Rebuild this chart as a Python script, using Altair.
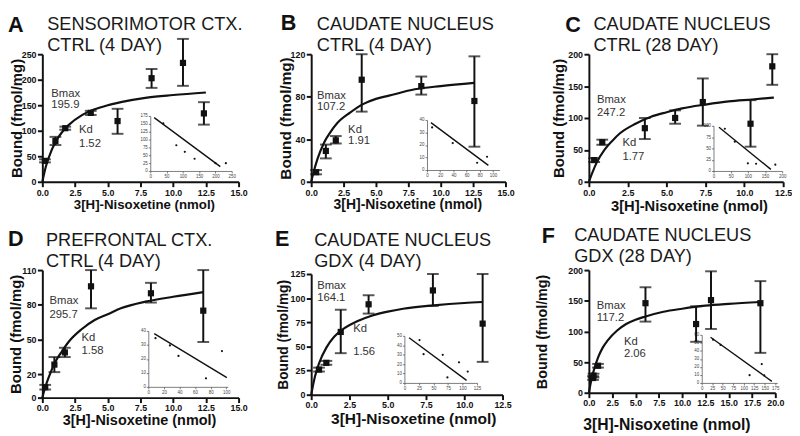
import altair as alt
import pandas as pd

FONT = "Liberation Sans"

# ---------------- data ----------------
# Panel A
A_x  = [0.2, 1.0, 1.75, 3.7, 5.75, 8.35, 10.75, 12.35]
A_y  = [41, 80, 105, 135, 119, 203, 233, 134]
A_lo = [38, 72, 102, 131, 94, 184, 188, 112]
A_hi = [44, 88, 108, 139, 143, 221, 280, 156]
A_cx = [0, 0.25, 0.5, 1, 1.5, 2, 3, 4, 5, 6, 8, 10, 12.5]
A_cy = [0, 28, 48, 78, 97, 111, 130, 142, 150, 156, 165, 170, 175]
A_ix = [40, 80, 106, 136, 200, 232]
A_iy = [152, 82, 61, 39, 25, 25]
A_lx = [12, 215]
A_ly = [170, 14]
A_txt = ["Bmax", "195.9", "Kd", "1.52"]

# Panel B
B_x  = [0.38, 1.13, 1.9, 3.9, 8.5, 12.6]
B_y  = [9, 29, 39, 96, 90, 76]
B_lo = [7, 22, 36, 66, 82, 33]
B_hi = [11, 35, 43, 120, 99, 118]
B_cx = [0, 0.25, 0.5, 1, 1.5, 2, 3, 4, 5, 6, 8, 10, 12.6]
B_cy = [0, 12, 22, 37, 47, 55, 65, 73, 78, 81, 87, 90, 93]
B_ix = [7.8, 39, 76, 91]
B_iy = [34, 21.5, 5.8, 10.6]
B_lx = [6, 93]
B_ly = [37.9, 3.7]
B_txt = ["Bmax", "107.2", "Kd", "1.91"]

# Panel C
C_x  = [0.34, 0.86, 3.6, 5.55, 7.33, 10.4, 11.8]
C_y  = [34, 62, 84, 100, 125, 91, 181]
C_lo = [31, 58, 67, 91, 88, 55, 152]
C_hi = [37, 66, 100, 112, 162, 128, 200]
C_cx = [0, 0.25, 0.5, 1, 1.5, 2, 3, 4, 5, 6, 7.5, 9, 10.5, 11.9]
C_cy = [0, 16, 30, 50, 64, 76, 91, 102, 109, 115, 121, 126, 129, 132]
C_ix = [33, 62, 100, 124, 180]
C_iy = [93.5, 65, 17, 16, 14]
C_lx = [16, 167]
C_ly = [97, 3.6]
C_txt = ["Bmax", "247.2", "Kd", "1.77"]

# Panel D
D_x  = [0.22, 0.92, 1.72, 3.72, 8.3, 12.3]
D_y  = [9, 28.5, 39, 96, 90, 75]
D_lo = [7, 22, 35, 77, 82, 48]
D_hi = [11, 35, 43, 110, 99, 110]
D_cx = [0, 0.25, 0.5, 1, 1.5, 2, 3, 4, 5, 6, 8, 10, 12.3]
D_cy = [0, 10, 18, 31, 40, 48, 59, 67, 72, 77, 83, 87, 91]
D_ix = [9.2, 27.7, 38.7, 74, 94.5]
D_iy = [34.8, 29.6, 22.1, 6.1, 25.6]
D_lx = [7.6, 100.8]
D_ly = [38.1, 6.6]
D_txt = ["Bmax", "295.7", "Kd", "1.58"]

# Panel E
E_x  = [0.51, 0.99, 1.93, 3.75, 7.95, 11.2]
E_y  = [26, 33, 65, 93.6, 108, 73.6]
E_lo = [24, 31, 43, 84, 92, 34]
E_hi = [28, 35, 88, 103, 125, 125]
E_cx = [0, 0.25, 0.5, 1, 1.5, 2, 3, 4, 5, 6, 8, 10, 11.2]
E_cy = [0, 19, 32, 49, 60, 67, 76, 82, 86, 89, 92.5, 95, 96]
E_ix = [26, 33, 66, 74, 94, 109]
E_iy = [45.5, 30.5, 29.8, 5.8, 21.9, 12]
E_lx = [8, 107]
E_ly = [47.9, 2.7]
E_txt = ["Bmax", "164.1", "Kd", "1.56"]

# Panel F
F_x  = [0.45, 0.5, 0.98, 6.07, 11.5, 13.1, 18.4]
F_y  = [24, 28, 44, 146, 112, 151, 146]
F_lo = [21, 25, 41, 116, 83, 104, 65]
F_hi = [27, 31, 47, 172, 141, 198, 182]
F_cx = [0, 0.25, 0.5, 1, 1.5, 2, 3, 4, 5, 6, 8, 10, 12.5, 15, 18.4]
F_cy = [0, 20, 35, 58, 74, 85, 101, 112, 119, 124, 132, 137, 142, 145, 148]
F_ix = [27, 45, 114, 143, 149]
F_iy = [54, 47.4, 9.7, 23.5, 9.3]
F_lx = [21, 167]
F_ly = [57, 2]
F_txt = ["Bmax", "117.2", "Kd", "2.06"]


def steps(a, b, s):
    out, v = [], a
    while v <= b + 1e-9:
        out.append(round(v, 3))
        v += s
    return out


# ---------------- layout / style per panel ----------------
panels = [
    dict(letter="A", title="SENSORIMOTOR CTX.\nCTRL (4 DAY)",
         data=(A_x, A_y, A_lo, A_hi, A_cx, A_cy, A_ix, A_iy, A_lx, A_ly, A_txt),
         ann_x=[0.68, 0.68, 2.8, 2.8], ann_y=[172, 150, 102, 73],
         W=198, H=130, xr=[0, 200], yr=[130, 0], xoff=0,
         xdom=[0, 15], xt=steps(0, 15, 2.5), ydom=[0, 250], yt=steps(0, 250, 50),
         xts=13.5, xtx=103.5, xty=23, yts=15.2, ytx=-26,
         lpos=(-35, -23), tpos=(5, -25), lh=22,
         ixd=[0, 250], ixt=steps(0, 250, 50), ixr=[110, 193],
         iyd=[0, 175], iyt=steps(0, 175, 25), iyr=[119, 63]),
    dict(letter="B", title="CAUDATE NUCLEUS\nCTRL (4 DAY)",
         data=(B_x, B_y, B_lo, B_hi, B_cx, B_cy, B_ix, B_iy, B_lx, B_ly, B_txt),
         ann_x=[0.45, 0.45, 2.85, 2.85], ann_y=[81, 70, 49, 38],
         W=196, H=130, xr=[0, 198], yr=[130, 0], xoff=0,
         xdom=[0, 15], xt=steps(0, 15, 2.5), ydom=[0, 120], yt=steps(0, 120, 40),
         xts=14.2, xtx=98, xty=23.5, yts=15.6, ytx=-26,
         lpos=(-31, -25), tpos=(5.7, -25), lh=22,
         ixd=[0, 110], ixt=steps(0, 100, 20), ixr=[118, 192],
         iyd=[0, 40], iyt=steps(0, 40, 10), iyr=[118, 67]),
    dict(letter="C", title="CAUDATE NUCLEUS\nCTRL (28 DAY)",
         data=(C_x, C_y, C_lo, C_hi, C_cx, C_cy, C_ix, C_iy, C_lx, C_ly, C_txt),
         ann_x=[0.52, 0.52, 2.16, 2.16], ann_y=[127.5, 107, 61, 38],
         W=198, H=130, xr=[0, 198], yr=[130, 0], xoff=0,
         xdom=[0, 12.5], xt=steps(0, 12.5, 2.5), ydom=[0, 200], yt=steps(0, 200, 50),
         xts=15.0, xtx=102, xty=24.5, yts=15.2, ytx=-31,
         lpos=(-24, -23), tpos=(4.7, -25), lh=22,
         ixd=[0, 200], ixt=steps(0, 200, 50), ixr=[127, 197],
         iyd=[0, 100], iyt=steps(0, 100, 25), iyr=[119, 73]),
    dict(letter="D", title="PREFRONTAL CTX.\nCTRL (4 DAY)",
         data=(D_x, D_y, D_lo, D_hi, D_cx, D_cy, D_ix, D_iy, D_lx, D_ly, D_txt),
         ann_x=[0.55, 0.55, 3.0, 3.0], ann_y=[83, 71, 51.6, 40],
         W=204, H=130, xr=[0, 200], yr=[130, 0], xoff=0,
         xdom=[0, 15], xt=steps(0, 15, 2.5), ydom=[0, 110], yt=[0, 20, 50, 80, 110],
         xts=14.7, xtx=98.5, xty=23.5, yts=15.2, ytx=-27.5,
         lpos=(-35, -25), tpos=(3.7, -25), lh=22,
         ixd=[0, 102], ixt=steps(0, 100, 20), ixr=[108, 189],
         iyd=[0, 40], iyt=steps(0, 40, 10), iyr=[119, 62]),
    dict(letter="E", title="CAUDATE NUCLEUS\nGDX (4 DAY)",
         data=(E_x, E_y, E_lo, E_hi, E_cx, E_cy, E_ix, E_iy, E_lx, E_ly, E_txt),
         ann_x=[0.39, 0.39, 2.74, 2.74], ann_y=[113, 99.7, 67.6, 44],
         W=213, H=130, xr=[0, 195], yr=[127, 4], xoff=-3,
         xdom=[0, 12.5], xt=steps(0, 12.5, 2.5), ydom=[0, 125], yt=steps(0, 125, 25),
         xts=15.8, xtx=104, xty=24.5, yts=14.0, ytx=-28,
         lpos=(-37, -25), tpos=(3, -25), lh=22,
         ixd=[0, 125], ixt=steps(0, 125, 25), ixr=[95, 169],
         iyd=[0, 50], iyt=steps(0, 50, 10), iyr=[115, 67]),
    dict(letter="F", title="CAUDATE NUCLEUS\nGDX (28 DAY)",
         data=(F_x, F_y, F_lo, F_hi, F_cx, F_cy, F_ix, F_iy, F_lx, F_ly, F_txt),
         ann_x=[0.85, 0.85, 3.76, 3.76], ann_y=[141, 121, 82.7, 62.4],
         W=190, H=130, xr=[0, 190], yr=[125, 0], xoff=-5,
         xdom=[0, 20], xt=steps(0, 20, 2.5), ydom=[0, 200], yt=steps(0, 200, 50),
         xts=16.0, xtx=79, xty=32, yts=14.6, ytx=-47.5,
         lpos=(-48, -28), tpos=(-15, -30), lh=21.5,
         ixd=[0, 180], ixt=steps(0, 175, 25), ixr=[115, 192],
         iyd=[0, 60], iyt=steps(0, 60, 10), iyr=[115, 66]),
]

INK = "#111111"


def make_panel(p):
    px, py, lo, hi, cx, cy, ix, iy, lx, ly, txt = p["data"]
    pts = pd.DataFrame({"x": px, "y": py, "lo": lo, "hi": hi})
    caps = pd.DataFrame({"x": px + px, "y": lo + hi})
    curve = pd.DataFrame({"x": cx, "y": cy})
    ann = pd.DataFrame({"x": p["ann_x"], "y": p["ann_y"], "t": txt})
    ipts = pd.DataFrame({"x": ix, "y": iy})
    iline = pd.DataFrame({"x": lx, "y": ly})

    xs = alt.Scale(domain=p["xdom"], range=p["xr"], nice=False, zero=False)
    ys = alt.Scale(domain=p["ydom"], range=p["yr"], nice=False, zero=False)
    xa = alt.Axis(orient="bottom", values=p["xt"], format=".1f", offset=p["xoff"],
                  title="3[H]-Nisoxetine (nmol)", titleFont=FONT, titleFontSize=p["xts"],
                  titleFontWeight="bold", titleColor=INK, titleX=p["xtx"], titleY=p["xty"],
                  titleBaseline="middle", labelFont=FONT, labelFontSize=9,
                  labelFontWeight="bold", labelColor=INK, labelFlush=False, labelOverlap=False,
                  labelPadding=1.5, domainColor=INK, domainWidth=2, tickColor=INK,
                  tickWidth=2, tickSize=5, grid=False)
    ya = alt.Axis(orient="left", values=p["yt"], format="d",
                  title="Bound (fmol/mg)", titleFont=FONT, titleFontSize=p["yts"],
                  titleFontWeight="bold", titleColor=INK, titleX=p["ytx"],
                  titleBaseline="middle", titleAngle=-90, labelFont=FONT, labelFontSize=9,
                  labelFontWeight="bold", labelColor=INK, labelOverlap=False,
                  labelPadding=1.5, domainColor=INK, domainWidth=2, tickColor=INK,
                  tickWidth=2, tickSize=5, grid=False)
    X = alt.X("x:Q", scale=xs, axis=xa)

    rules = alt.Chart(pts).mark_rule(color=INK, strokeWidth=2).encode(
        x=X, y=alt.Y("lo:Q", scale=ys, axis=ya), y2="hi:Q")
    capm = alt.Chart(caps).mark_tick(orient="horizontal", size=12, thickness=2, color=INK).encode(
        x=X, y=alt.Y("y:Q", scale=ys, axis=ya))
    sq = alt.Chart(pts).mark_square(size=40, color=INK, opacity=1).encode(
        x=X, y=alt.Y("y:Q", scale=ys, axis=ya))
    ln = alt.Chart(curve).mark_line(color=INK, strokeWidth=2.2, interpolate="monotone").encode(
        x=X, y=alt.Y("y:Q", scale=ys, axis=ya))
    an = alt.Chart(ann).mark_text(align="left", baseline="middle", font=FONT, fontSize=11.5,
                                  color="#333333").encode(
        x=X, y=alt.Y("y:Q", scale=ys, axis=ya), text="t:N")
    letter = alt.Chart(pd.DataFrame({"t": [p["letter"]]})).mark_text(
        align="left", baseline="alphabetic", font=FONT, fontSize=22, fontWeight="bold",
        color=INK).encode(x=alt.value(p["lpos"][0]), y=alt.value(p["lpos"][1]), text="t:N")
    title = alt.Chart(pd.DataFrame({"t": [p["title"]]})).mark_text(
        align="left", baseline="alphabetic", font=FONT, fontSize=18.5, lineHeight=p["lh"],
        lineBreak="\n", color="#1a1a1a").encode(
        x=alt.value(p["tpos"][0]), y=alt.value(p["tpos"][1]), text="t:N")
    main = alt.layer(rules, capm, sq, ln, an, letter, title)

    ixs = alt.Scale(domain=p["ixd"], range=p["ixr"], nice=False, zero=False)
    iys = alt.Scale(domain=p["iyd"], range=p["iyr"], nice=False, zero=False)
    common = dict(labelFont=FONT, labelFontSize=4.5, labelColor="#444444",
                  domainColor="#444444", domainWidth=0.7, tickColor="#444444",
                  tickWidth=0.7, tickSize=2, labelPadding=1, title=None, grid=False,
                  labelOverlap=False, labelFlush=False)
    ixa = alt.Axis(orient="bottom", offset=-(p["H"] - p["iyr"][0]), values=p["ixt"], **common)
    iya = alt.Axis(orient="left", offset=-p["ixr"][0], values=p["iyt"], **common)
    IX = alt.X("x:Q", scale=ixs, axis=ixa)
    IY = alt.Y("y:Q", scale=iys, axis=iya)
    idots = alt.Chart(ipts).mark_circle(size=5, color=INK, opacity=1).encode(x=IX, y=IY)
    ilin = alt.Chart(iline).mark_line(color=INK, strokeWidth=1.4).encode(x=IX, y=IY)
    inset = alt.layer(idots, ilin)

    return alt.layer(main, inset).resolve_scale(x="independent", y="independent").properties(
        width=p["W"], height=p["H"])


charts = [make_panel(p) for p in panels]
chart = alt.concat(*charts, columns=3, spacing={"row": 90, "column": 70},
                   bounds="flush", align="none").properties(
    padding={"left": 0, "top": 0, "right": 0, "bottom": 0}
).configure_view(stroke=None).configure_axis(grid=False)

chart.save("out.html", embed_options={"renderer": "svg", "actions": False})
